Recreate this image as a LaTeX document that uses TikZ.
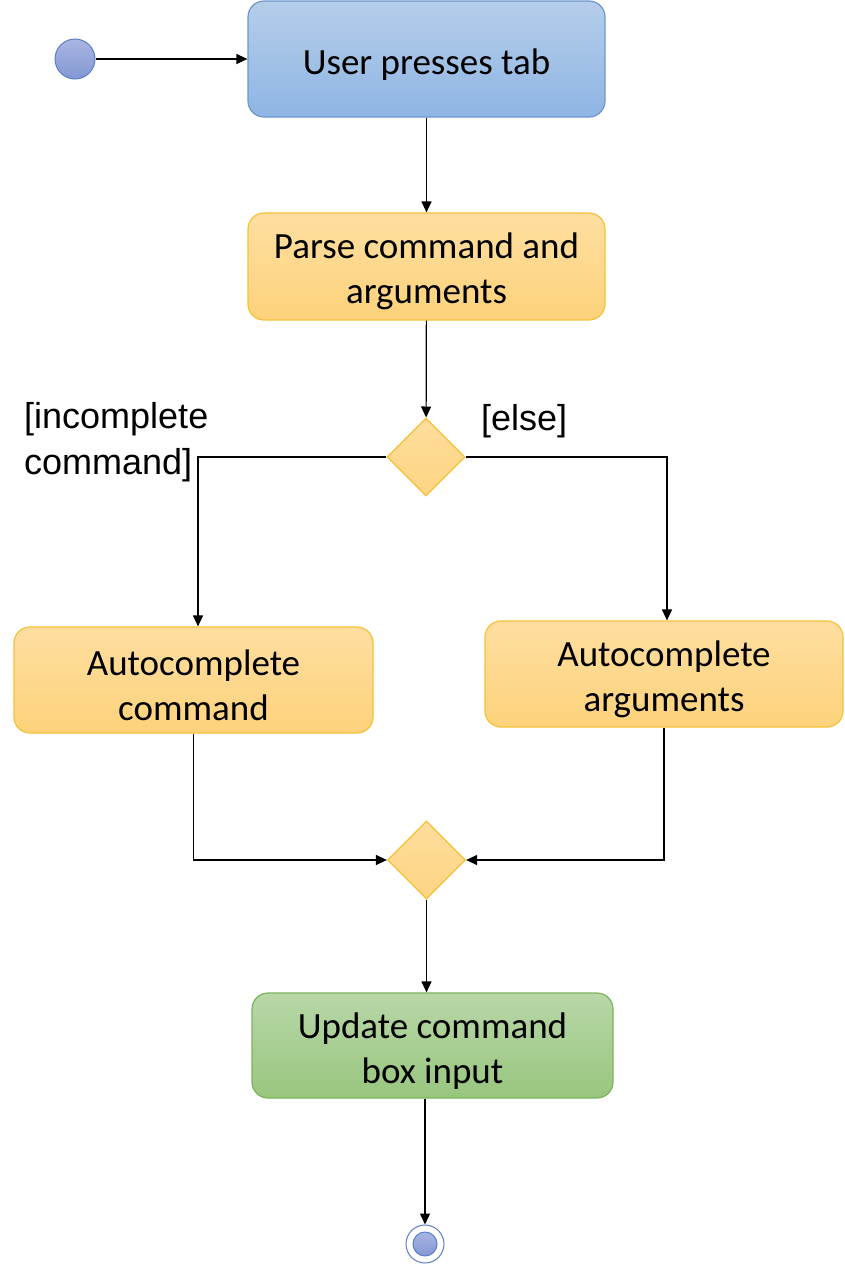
\documentclass[tikz,border=0pt]{standalone}
\usepackage{fontspec}
\setmainfont{Carlito}
\newfontfamily\guardfont{Liberation Sans}
\usetikzlibrary{positioning,shapes.geometric,arrows.meta}
\definecolor{bluetop}{HTML}{B5CEEA}
\definecolor{bluebot}{HTML}{8FB5E3}
\definecolor{blueline}{HTML}{6E96CF}
\definecolor{dottop}{HTML}{A9B6E2}
\definecolor{dotbot}{HTML}{8497D3}
\definecolor{dotline}{HTML}{5B7FC6}
\definecolor{ortop}{HTML}{FEDEA0}
\definecolor{orbot}{HTML}{FDD27B}
\definecolor{orline}{HTML}{F5C237}
\definecolor{grtop}{HTML}{B8D7A8}
\definecolor{grbot}{HTML}{98C67E}
\definecolor{grline}{HTML}{7DB35C}
\newcommand{\lift}{\rule{0pt}{36pt}}
\tikzset{>={Triangle[length=11pt,width=10pt]},
  action/.style={rounded corners=16pt,line width=1.2pt,inner sep=0pt,
    minimum width=357pt,minimum height=107pt,align=center,
    font=\fontsize{37}{45}\selectfont},
  blueaction/.style={action,top color=bluetop,bottom color=bluebot,draw=blueline},
  oraction/.style={action,top color=ortop,bottom color=orbot,draw=orline},
  graction/.style={action,top color=grtop,bottom color=grbot,draw=grline},
  branch/.style={diamond,aspect=1,inner sep=0pt,minimum size=78pt,line width=1.2pt,
    top color=ortop!90!orbot,bottom color=orbot!80!ortop,draw=orline},
  startstate/.style={circle,inner sep=0pt,minimum size=40pt,line width=1pt,
    top color=dottop,bottom color=dotbot,draw=dotline},
  endstate/.style={circle,inner sep=0pt,minimum size=38pt,line width=1pt,
    fill=white,draw=dotline},
  guard/.style={inner sep=0pt,align=left,font=\guardfont\fontsize{36}{46}\selectfont},
  flow/.style={->,line width=1.2pt}}
\begin{document}
\begin{tikzpicture}[x=1pt,y=-1pt]
\useasboundingbox (0,0) rectangle (844,1264);
\node[startstate] (start) at (75,59) {};
\node[blueaction,minimum height=116pt] (user) at (426.5,59) {\lift User presses tab};
\node[oraction] (parse) at (426.5,266.5) {\lift Parse command and\\arguments};
\node[branch] (split) at (426,457) {};
\node[oraction,minimum width=359pt,minimum height=106pt] (cmd) at (193.5,680) {\lift Autocomplete\\command};
\node[oraction,minimum width=358pt,minimum height=106pt] (args) at (664,674) {\lift Autocomplete\\arguments};
\node[branch] (merge) at (426.5,860) {};
\node[graction,minimum width=361pt,minimum height=105pt] (update) at (432.5,1045.5) {\lift Update command\\box input};
\node[endstate] (end) at (425,1244) {};
\node[startstate,minimum size=24pt] (endcore) at (end) {};
% guards
\node[guard,anchor=base west] (incomplete) at (24,474) {[incomplete\\command]};
\node[guard,anchor=base west] (else) at (481,430) {[else]};
% flows
\draw[flow] (start) -- (user);
\draw[flow] (user) -- (parse);
\draw[flow] (parse) -- (split);
\draw[flow] (split.west) -| ([xshift=4.5pt]cmd.north);
\draw[flow] (split.east) -| ([xshift=3pt]args.north);
\draw[flow] (cmd.south) |- (merge.west);
\draw[flow] (args.south) |- (merge.east);
\draw[flow] (merge) -- (merge |- update.north);
\draw[flow] (end |- update.south) -- (end);
\end{tikzpicture}
\end{document}
